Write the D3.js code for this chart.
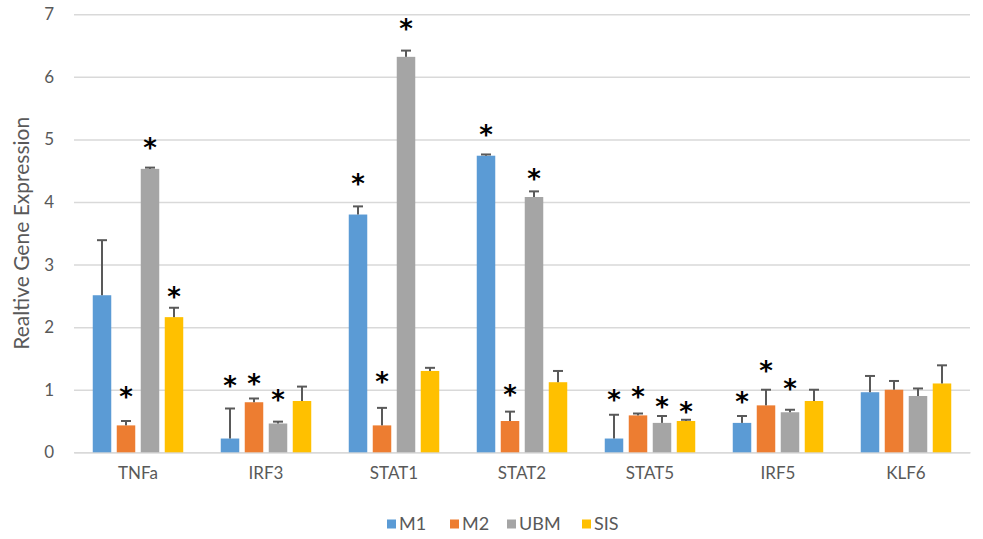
<!DOCTYPE html>
<html>
<head>
<meta charset="utf-8">
<script src="https://cdn.jsdelivr.net/npm/d3@7"></script>
<style>
  html, body { margin: 0; padding: 0; background: #fff; }
  svg { display: block; font-family: "Lato", "Liberation Sans", sans-serif; }
</style>
</head>
<body>
<svg id="chart" width="983" height="539"></svg>
<script>
// Genes on the x axis and treatment groups
const genes = ["TNFa", "IRF3", "STAT1", "STAT2", "STAT5", "IRF5", "KLF6"];
const groups = ["M1", "M2", "UBM", "SIS"];
const groupColors = ["#5B9BD5", "#ED7D31", "#A5A5A5", "#FFC000"];

// Mean relative expression per group (one value per gene)
const m1  = [2.51, 0.22, 3.80, 4.74, 0.22, 0.47, 0.96];
const m2  = [0.43, 0.80, 0.43, 0.50, 0.59, 0.75, 1.00];
const ubm = [4.53, 0.46, 6.32, 4.08, 0.47, 0.64, 0.90];
const sis = [2.16, 0.82, 1.30, 1.12, 0.50, 0.82, 1.10];

// Upper error (standard deviation) per group
const m1Err  = [0.88, 0.48, 0.13, 0.02, 0.38, 0.11, 0.26];
const m2Err  = [0.07, 0.06, 0.28, 0.15, 0.03, 0.25, 0.14];
const ubmErr = [0.02, 0.03, 0.10, 0.09, 0.11, 0.04, 0.12];
const sisErr = [0.15, 0.23, 0.05, 0.18, 0.02, 0.18, 0.29];

// Significance markers: level (in expression units) where the "*" sits, null = none
const m1Star  = [null, 1.14, 4.36, 5.15, 0.92, 0.89, null];
const m2Star  = [0.96, 1.17, 1.21, 1.00, 0.96, 1.38, null];
const ubmStar = [4.94, 0.92, 6.85, 4.44, 0.81, 1.09, null];
const sisStar = [2.56, null, null, null, 0.72, null, null];

const yTicks = [0, 1, 2, 3, 4, 5, 6, 7];
const yTitle = "Realtive Gene Expression";

const values = [m1, m2, ubm, sis];
const errors = [m1Err, m2Err, ubmErr, sisErr];
const stars = [m1Star, m2Star, ubmStar, sisStar];

const rows = [];
genes.forEach((g, gi) => {
  groups.forEach((s, si) => {
    rows.push({ gene: g, group: s, color: groupColors[si],
      value: values[si][gi], err: errors[si][gi], star: stars[si][gi] });
  });
});

const svg = d3.select("#chart");
const margin = { left: 74, right: 13, top: 14, bottom: 86 };
const W = 983, H = 539;

const x0 = d3.scaleBand().domain(genes).range([margin.left, W - margin.right]).padding(0);
const groupSpan = x0.bandwidth() * 0.707;
const x1 = d3.scaleBand().domain(groups).range([0, groupSpan]).paddingInner(0.229).paddingOuter(0);
const y = d3.scaleLinear().domain([0, 7]).range([H - margin.bottom - 0.7, margin.top + 0.3]);

const textGray = "#595959";

// Horizontal gridlines with value labels
const yAxis = d3.axisLeft(y).tickValues(yTicks).tickFormat(d3.format("d"))
  .tickSize(-(W - margin.left - margin.right)).tickPadding(20);
const gy = svg.append("g").attr("transform", `translate(${margin.left},0)`).call(yAxis);
gy.select(".domain").remove();
gy.selectAll(".tick line").attr("stroke", "#D9D9D9").attr("stroke-width", 1.5);
gy.selectAll(".tick text").attr("fill", textGray).attr("font-size", 17).attr("font-family", "Lato, sans-serif");

// Category labels
const xAxis = d3.axisBottom(x0).tickSize(0).tickPadding(15);
const gx = svg.append("g").attr("transform", `translate(0,${y(0)})`).call(xAxis);
gx.select(".domain").attr("stroke", "#D9D9D9").attr("stroke-width", 1.5);
gx.selectAll(".tick text").attr("fill", textGray).attr("font-size", 17).attr("font-family", "Lato, sans-serif");

// Bars
const barX = d => x0(d.gene) + (x0.bandwidth() - groupSpan) / 2 + x1(d.group);
svg.append("g").selectAll("rect").data(rows).join("rect")
  .attr("x", barX)
  .attr("width", x1.bandwidth())
  .attr("y", d => y(d.value))
  .attr("height", d => y(0) - y(d.value))
  .attr("fill", d => d.color);

// Error bars (upper only)
const errG = svg.append("g").attr("stroke", "#595959").attr("stroke-width", 2);
const cx = d => barX(d) + x1.bandwidth() / 2;
errG.selectAll("line.stem").data(rows).join("line").attr("class", "stem")
  .attr("x1", cx).attr("x2", cx)
  .attr("y1", d => y(d.value)).attr("y2", d => y(d.value + d.err));
errG.selectAll("line.cap").data(rows).join("line").attr("class", "cap")
  .attr("x1", d => cx(d) - 5).attr("x2", d => cx(d) + 5)
  .attr("y1", d => y(d.value + d.err)).attr("y2", d => y(d.value + d.err));

// Significance asterisks
svg.append("g").selectAll("text").data(rows.filter(d => d.star != null)).join("text")
  .attr("x", cx)
  .attr("y", d => y(d.star) + 14)
  .attr("text-anchor", "middle")
  .attr("font-family", "DejaVu Sans, sans-serif")
  .attr("font-weight", "bold")
  .attr("font-size", 26)
  .attr("fill", "#000")
  .text("*");

// Y axis title
svg.append("text")
  .attr("transform", `translate(29,${(y(0) + y(7)) / 2}) rotate(-90)`)
  .attr("text-anchor", "middle")
  .attr("fill", textGray)
  .attr("font-size", 21)
  .attr("font-family", "Lato, sans-serif")
  .text(yTitle);

// Legend
const legend = svg.append("g").attr("transform", "translate(0,524)");
const legendX = [387, 450, 507, 582];
groups.forEach((g, i) => {
  const item = legend.append("g").attr("transform", `translate(${legendX[i]},0)`);
  item.append("rect").attr("x", 0).attr("y", -4.5).attr("width", 9).attr("height", 9).attr("fill", groupColors[i]);
  item.append("text").attr("x", 12).attr("y", 0).attr("dy", "0.36em")
    .attr("fill", textGray).attr("font-size", 18).attr("font-family", "Lato, sans-serif").text(g);
});
</script>
</body>
</html>
